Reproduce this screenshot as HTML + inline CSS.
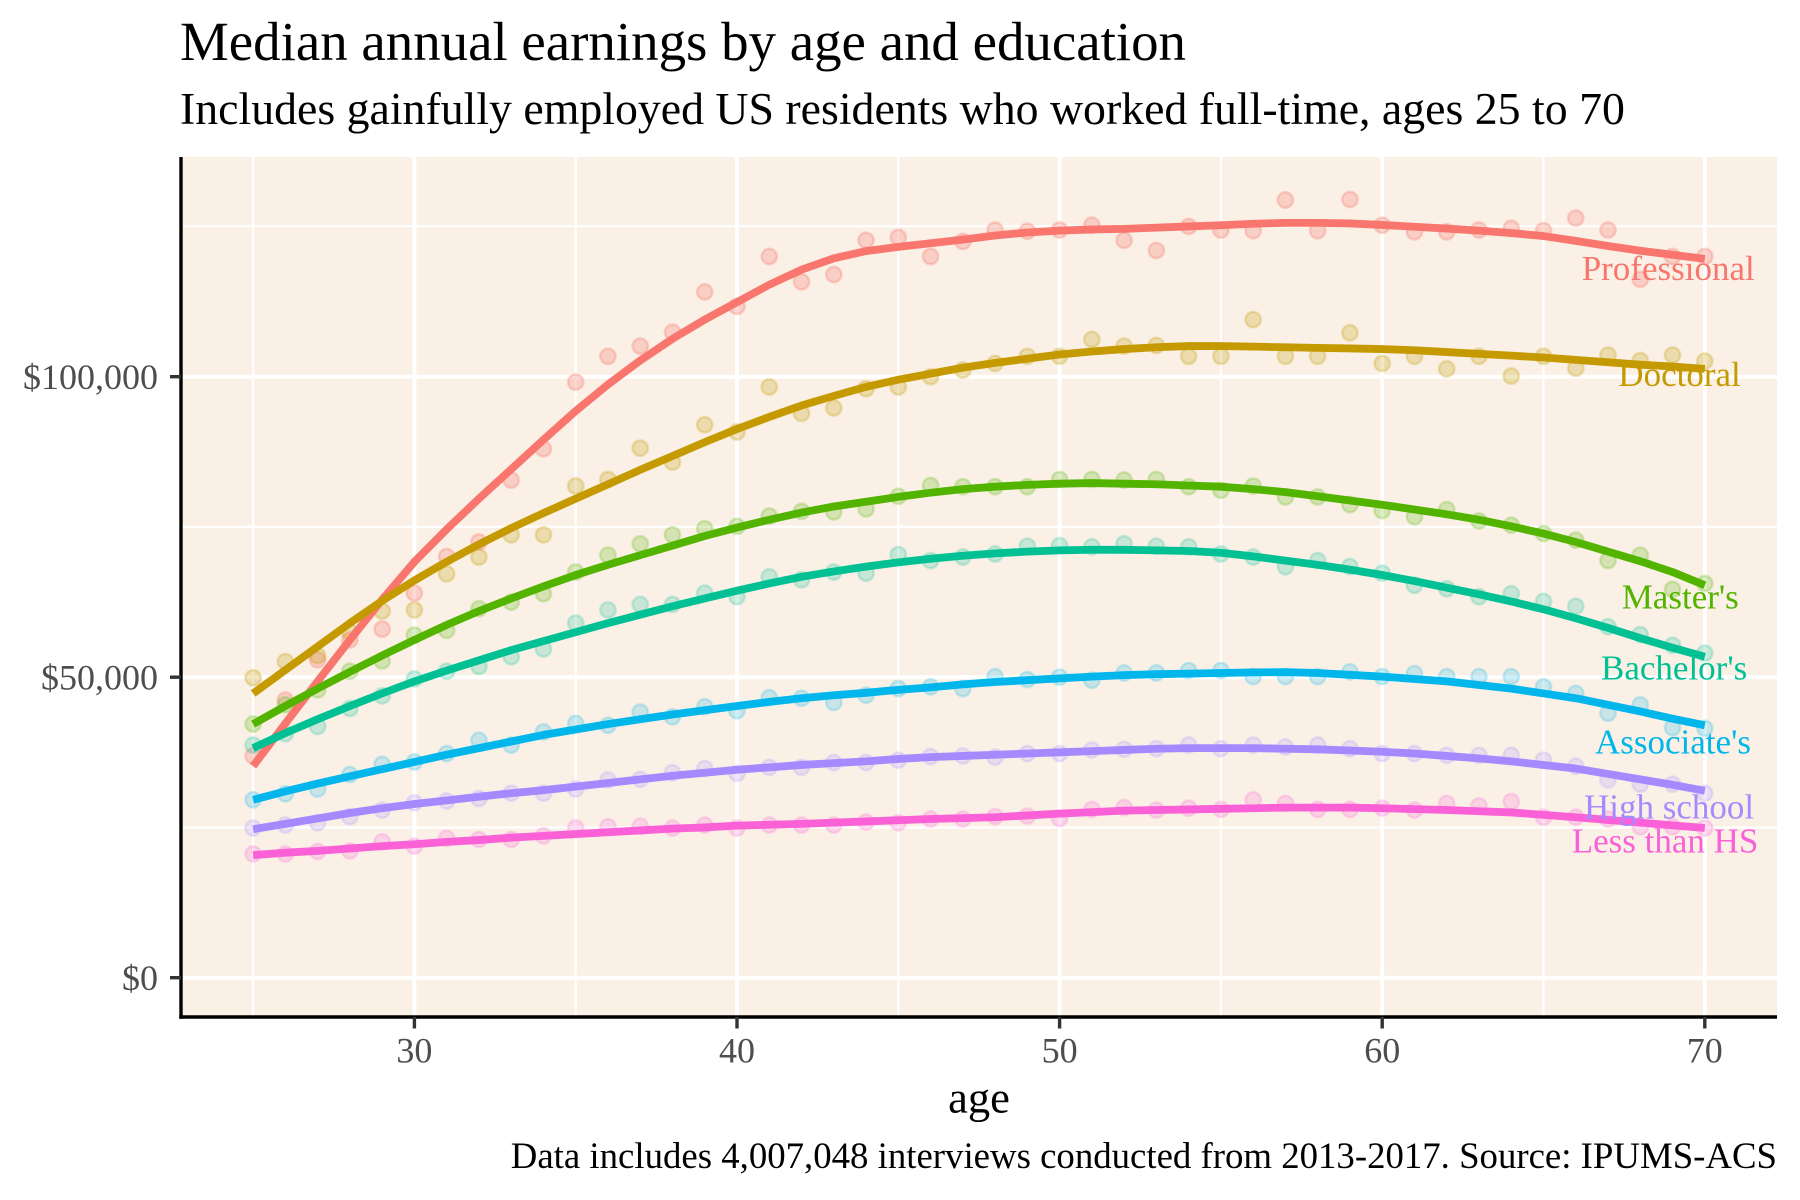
<!DOCTYPE html>
<html>
<head>
<meta charset="utf-8">
<style>
html,body{margin:0;padding:0;background:#fff;}
svg{display:block;}
text{font-family:"Liberation Serif","Times New Roman",serif;}
</style>
</head>
<body>
<svg xmlns="http://www.w3.org/2000/svg" width="1800" height="1200" viewBox="0 0 1800 1200">
<defs>
<circle id="d" r="7.7" stroke-width="2.5" transform="scale(0.0309981 -0.1663894)"/>
</defs>
<rect width="1800" height="1200" fill="#ffffff"/>
<rect x="181" y="157" width="1596" height="860" fill="#FAF0E6"/>
<!-- minor grid -->
<g stroke="#ffffff" stroke-width="2.2">
<line x1="181" x2="1777" y1="827.5" y2="827.5"/>
<line x1="181" x2="1777" y1="526.9" y2="526.9"/>
<line x1="181" x2="1777" y1="226.2" y2="226.2"/>
<line y1="157" y2="1017" x1="253.1" x2="253.1"/>
<line y1="157" y2="1017" x1="575.7" x2="575.7"/>
<line y1="157" y2="1017" x1="898.3" x2="898.3"/>
<line y1="157" y2="1017" x1="1220.9" x2="1220.9"/>
<line y1="157" y2="1017" x1="1543.5" x2="1543.5"/>
</g>
<!-- major grid -->
<g stroke="#ffffff" stroke-width="4">
<line x1="181" x2="1777" y1="977.7" y2="977.7"/>
<line x1="181" x2="1777" y1="677.2" y2="677.2"/>
<line x1="181" x2="1777" y1="376.7" y2="376.7"/>
<line y1="157" y2="1017" x1="414.4" x2="414.4"/>
<line y1="157" y2="1017" x1="737.0" x2="737.0"/>
<line y1="157" y2="1017" x1="1059.6" x2="1059.6"/>
<line y1="157" y2="1017" x1="1382.2" x2="1382.2"/>
<line y1="157" y2="1017" x1="1704.8" x2="1704.8"/>
</g>

<g transform="translate(253.1 977.7) scale(32.26 -6.01) translate(-25 0)">
<!-- points -->
<g fill="#F8766D" stroke="#F8766D" fill-opacity="0.28" stroke-opacity="0.28">
<use href="#d" x="25" y="36.9"/><use href="#d" x="26" y="46.2"/><use href="#d" x="27" y="52.9"/><use href="#d" x="28" y="56.2"/><use href="#d" x="29" y="58.0"/><use href="#d" x="30" y="64.0"/><use href="#d" x="31" y="70.1"/><use href="#d" x="32" y="72.5"/><use href="#d" x="33" y="82.8"/><use href="#d" x="34" y="88.0"/><use href="#d" x="35" y="99.1"/><use href="#d" x="36" y="103.4"/><use href="#d" x="37" y="105.1"/><use href="#d" x="38" y="107.4"/><use href="#d" x="39" y="114.1"/><use href="#d" x="40" y="111.7"/><use href="#d" x="41" y="120.0"/><use href="#d" x="42" y="115.8"/><use href="#d" x="43" y="117.0"/><use href="#d" x="44" y="122.7"/><use href="#d" x="45" y="123.2"/><use href="#d" x="46" y="120.0"/><use href="#d" x="47" y="122.5"/><use href="#d" x="48" y="124.4"/><use href="#d" x="49" y="124.2"/><use href="#d" x="50" y="124.4"/><use href="#d" x="51" y="125.2"/><use href="#d" x="52" y="122.7"/><use href="#d" x="53" y="121.0"/><use href="#d" x="54" y="125.0"/><use href="#d" x="55" y="124.4"/><use href="#d" x="56" y="124.3"/><use href="#d" x="57" y="129.4"/><use href="#d" x="58" y="124.3"/><use href="#d" x="59" y="129.5"/><use href="#d" x="60" y="125.2"/><use href="#d" x="61" y="124.1"/><use href="#d" x="62" y="124.1"/><use href="#d" x="63" y="124.4"/><use href="#d" x="64" y="124.7"/><use href="#d" x="65" y="124.3"/><use href="#d" x="66" y="126.4"/><use href="#d" x="67" y="124.4"/><use href="#d" x="68" y="116.2"/><use href="#d" x="69" y="120.0"/><use href="#d" x="70" y="120.0"/>
</g>
<g fill="#C49A00" stroke="#C49A00" fill-opacity="0.25" stroke-opacity="0.25">
<use href="#d" x="25" y="49.9"/><use href="#d" x="26" y="52.6"/><use href="#d" x="27" y="53.6"/><use href="#d" x="28" y="57.5"/><use href="#d" x="29" y="61.0"/><use href="#d" x="30" y="61.2"/><use href="#d" x="31" y="67.2"/><use href="#d" x="32" y="70.0"/><use href="#d" x="33" y="73.7"/><use href="#d" x="34" y="73.7"/><use href="#d" x="35" y="81.8"/><use href="#d" x="36" y="82.9"/><use href="#d" x="37" y="88.1"/><use href="#d" x="38" y="85.8"/><use href="#d" x="39" y="92.0"/><use href="#d" x="40" y="90.8"/><use href="#d" x="41" y="98.3"/><use href="#d" x="42" y="93.9"/><use href="#d" x="43" y="94.8"/><use href="#d" x="44" y="98.0"/><use href="#d" x="45" y="98.3"/><use href="#d" x="46" y="100.0"/><use href="#d" x="47" y="101.1"/><use href="#d" x="48" y="102.2"/><use href="#d" x="49" y="103.4"/><use href="#d" x="50" y="103.4"/><use href="#d" x="51" y="106.2"/><use href="#d" x="52" y="105.1"/><use href="#d" x="53" y="105.2"/><use href="#d" x="54" y="103.4"/><use href="#d" x="55" y="103.4"/><use href="#d" x="56" y="109.5"/><use href="#d" x="57" y="103.4"/><use href="#d" x="58" y="103.4"/><use href="#d" x="59" y="107.3"/><use href="#d" x="60" y="102.2"/><use href="#d" x="61" y="103.4"/><use href="#d" x="62" y="101.3"/><use href="#d" x="63" y="103.4"/><use href="#d" x="64" y="100.1"/><use href="#d" x="65" y="103.4"/><use href="#d" x="66" y="101.4"/><use href="#d" x="67" y="103.6"/><use href="#d" x="68" y="102.7"/><use href="#d" x="69" y="103.6"/><use href="#d" x="70" y="102.6"/>
</g>
<g fill="#53B400" stroke="#53B400" fill-opacity="0.22" stroke-opacity="0.22">
<use href="#d" x="25" y="42.2"/><use href="#d" x="26" y="45.4"/><use href="#d" x="27" y="47.9"/><use href="#d" x="28" y="51.0"/><use href="#d" x="29" y="52.7"/><use href="#d" x="30" y="57.0"/><use href="#d" x="31" y="57.8"/><use href="#d" x="32" y="61.4"/><use href="#d" x="33" y="62.5"/><use href="#d" x="34" y="63.9"/><use href="#d" x="35" y="67.5"/><use href="#d" x="36" y="70.3"/><use href="#d" x="37" y="72.2"/><use href="#d" x="38" y="73.7"/><use href="#d" x="39" y="74.7"/><use href="#d" x="40" y="75.1"/><use href="#d" x="41" y="76.8"/><use href="#d" x="42" y="77.6"/><use href="#d" x="43" y="77.5"/><use href="#d" x="44" y="78.0"/><use href="#d" x="45" y="80.1"/><use href="#d" x="46" y="81.9"/><use href="#d" x="47" y="81.7"/><use href="#d" x="48" y="81.7"/><use href="#d" x="49" y="81.7"/><use href="#d" x="50" y="82.9"/><use href="#d" x="51" y="82.9"/><use href="#d" x="52" y="82.8"/><use href="#d" x="53" y="82.9"/><use href="#d" x="54" y="81.7"/><use href="#d" x="55" y="81.1"/><use href="#d" x="56" y="81.8"/><use href="#d" x="57" y="80.0"/><use href="#d" x="58" y="80.0"/><use href="#d" x="59" y="78.7"/><use href="#d" x="60" y="77.7"/><use href="#d" x="61" y="76.7"/><use href="#d" x="62" y="77.9"/><use href="#d" x="63" y="76.0"/><use href="#d" x="64" y="75.3"/><use href="#d" x="65" y="73.9"/><use href="#d" x="66" y="72.8"/><use href="#d" x="67" y="69.4"/><use href="#d" x="68" y="70.3"/><use href="#d" x="69" y="64.6"/><use href="#d" x="70" y="65.6"/>
</g>
<g fill="#00C094" stroke="#00C094" fill-opacity="0.2" stroke-opacity="0.2">
<use href="#d" x="25" y="38.7"/><use href="#d" x="26" y="40.6"/><use href="#d" x="27" y="41.8"/><use href="#d" x="28" y="44.8"/><use href="#d" x="29" y="46.9"/><use href="#d" x="30" y="49.7"/><use href="#d" x="31" y="51.0"/><use href="#d" x="32" y="51.8"/><use href="#d" x="33" y="53.4"/><use href="#d" x="34" y="54.7"/><use href="#d" x="35" y="59.0"/><use href="#d" x="36" y="61.2"/><use href="#d" x="37" y="62.1"/><use href="#d" x="38" y="62.1"/><use href="#d" x="39" y="64.0"/><use href="#d" x="40" y="63.4"/><use href="#d" x="41" y="66.7"/><use href="#d" x="42" y="66.2"/><use href="#d" x="43" y="67.5"/><use href="#d" x="44" y="67.3"/><use href="#d" x="45" y="70.4"/><use href="#d" x="46" y="69.4"/><use href="#d" x="47" y="70.0"/><use href="#d" x="48" y="70.5"/><use href="#d" x="49" y="71.8"/><use href="#d" x="50" y="71.9"/><use href="#d" x="51" y="71.7"/><use href="#d" x="52" y="72.2"/><use href="#d" x="53" y="71.8"/><use href="#d" x="54" y="71.7"/><use href="#d" x="55" y="70.5"/><use href="#d" x="56" y="70.0"/><use href="#d" x="57" y="68.4"/><use href="#d" x="58" y="69.4"/><use href="#d" x="59" y="68.4"/><use href="#d" x="60" y="67.3"/><use href="#d" x="61" y="65.3"/><use href="#d" x="62" y="64.7"/><use href="#d" x="63" y="63.4"/><use href="#d" x="64" y="63.9"/><use href="#d" x="65" y="62.6"/><use href="#d" x="66" y="61.8"/><use href="#d" x="67" y="58.4"/><use href="#d" x="68" y="57.1"/><use href="#d" x="69" y="55.3"/><use href="#d" x="70" y="54.0"/>
</g>
<g fill="#00B6EB" stroke="#00B6EB" fill-opacity="0.2" stroke-opacity="0.2">
<use href="#d" x="25" y="29.6"/><use href="#d" x="26" y="30.6"/><use href="#d" x="27" y="31.4"/><use href="#d" x="28" y="33.8"/><use href="#d" x="29" y="35.5"/><use href="#d" x="30" y="35.9"/><use href="#d" x="31" y="37.3"/><use href="#d" x="32" y="39.5"/><use href="#d" x="33" y="38.7"/><use href="#d" x="34" y="40.9"/><use href="#d" x="35" y="42.3"/><use href="#d" x="36" y="42.0"/><use href="#d" x="37" y="44.2"/><use href="#d" x="38" y="43.4"/><use href="#d" x="39" y="45.1"/><use href="#d" x="40" y="44.4"/><use href="#d" x="41" y="46.6"/><use href="#d" x="42" y="46.5"/><use href="#d" x="43" y="45.8"/><use href="#d" x="44" y="47.0"/><use href="#d" x="45" y="48.1"/><use href="#d" x="46" y="48.4"/><use href="#d" x="47" y="48.1"/><use href="#d" x="48" y="50.1"/><use href="#d" x="49" y="49.6"/><use href="#d" x="50" y="50.0"/><use href="#d" x="51" y="49.5"/><use href="#d" x="52" y="50.7"/><use href="#d" x="53" y="50.7"/><use href="#d" x="54" y="51.1"/><use href="#d" x="55" y="51.1"/><use href="#d" x="56" y="50.1"/><use href="#d" x="57" y="50.1"/><use href="#d" x="58" y="50.1"/><use href="#d" x="59" y="50.9"/><use href="#d" x="60" y="50.1"/><use href="#d" x="61" y="50.6"/><use href="#d" x="62" y="50.1"/><use href="#d" x="63" y="50.1"/><use href="#d" x="64" y="50.1"/><use href="#d" x="65" y="48.4"/><use href="#d" x="66" y="47.3"/><use href="#d" x="67" y="44.0"/><use href="#d" x="68" y="45.4"/><use href="#d" x="69" y="41.6"/><use href="#d" x="70" y="41.5"/>
</g>
<g fill="#A58AFF" stroke="#A58AFF" fill-opacity="0.2" stroke-opacity="0.2">
<use href="#d" x="25" y="24.9"/><use href="#d" x="26" y="25.4"/><use href="#d" x="27" y="25.8"/><use href="#d" x="28" y="26.8"/><use href="#d" x="29" y="27.9"/><use href="#d" x="30" y="29.1"/><use href="#d" x="31" y="29.4"/><use href="#d" x="32" y="29.8"/><use href="#d" x="33" y="30.7"/><use href="#d" x="34" y="30.7"/><use href="#d" x="35" y="31.4"/><use href="#d" x="36" y="32.9"/><use href="#d" x="37" y="33.0"/><use href="#d" x="38" y="34.1"/><use href="#d" x="39" y="34.8"/><use href="#d" x="40" y="34.0"/><use href="#d" x="41" y="35.0"/><use href="#d" x="42" y="35.0"/><use href="#d" x="43" y="35.8"/><use href="#d" x="44" y="35.8"/><use href="#d" x="45" y="36.2"/><use href="#d" x="46" y="36.8"/><use href="#d" x="47" y="36.9"/><use href="#d" x="48" y="36.7"/><use href="#d" x="49" y="37.3"/><use href="#d" x="50" y="37.3"/><use href="#d" x="51" y="37.9"/><use href="#d" x="52" y="38.0"/><use href="#d" x="53" y="38.1"/><use href="#d" x="54" y="38.7"/><use href="#d" x="55" y="38.1"/><use href="#d" x="56" y="38.7"/><use href="#d" x="57" y="38.4"/><use href="#d" x="58" y="38.7"/><use href="#d" x="59" y="38.1"/><use href="#d" x="60" y="37.3"/><use href="#d" x="61" y="37.3"/><use href="#d" x="62" y="37.0"/><use href="#d" x="63" y="37.0"/><use href="#d" x="64" y="37.0"/><use href="#d" x="65" y="36.2"/><use href="#d" x="66" y="35.2"/><use href="#d" x="67" y="32.9"/><use href="#d" x="68" y="32.2"/><use href="#d" x="69" y="32.2"/><use href="#d" x="70" y="30.7"/>
</g>
<g fill="#FB61D7" stroke="#FB61D7" fill-opacity="0.2" stroke-opacity="0.2">
<use href="#d" x="25" y="20.6"/><use href="#d" x="26" y="20.6"/><use href="#d" x="27" y="21.0"/><use href="#d" x="28" y="21.1"/><use href="#d" x="29" y="22.6"/><use href="#d" x="30" y="21.9"/><use href="#d" x="31" y="23.2"/><use href="#d" x="32" y="23.0"/><use href="#d" x="33" y="23.0"/><use href="#d" x="34" y="23.6"/><use href="#d" x="35" y="24.9"/><use href="#d" x="36" y="25.1"/><use href="#d" x="37" y="25.2"/><use href="#d" x="38" y="24.9"/><use href="#d" x="39" y="25.4"/><use href="#d" x="40" y="24.9"/><use href="#d" x="41" y="25.4"/><use href="#d" x="42" y="25.4"/><use href="#d" x="43" y="25.4"/><use href="#d" x="44" y="25.9"/><use href="#d" x="45" y="25.8"/><use href="#d" x="46" y="26.4"/><use href="#d" x="47" y="26.4"/><use href="#d" x="48" y="26.8"/><use href="#d" x="49" y="26.9"/><use href="#d" x="50" y="26.5"/><use href="#d" x="51" y="28.0"/><use href="#d" x="52" y="28.3"/><use href="#d" x="53" y="27.9"/><use href="#d" x="54" y="28.2"/><use href="#d" x="55" y="28.0"/><use href="#d" x="56" y="29.6"/><use href="#d" x="57" y="29.0"/><use href="#d" x="58" y="28.0"/><use href="#d" x="59" y="28.0"/><use href="#d" x="60" y="28.2"/><use href="#d" x="61" y="27.9"/><use href="#d" x="62" y="29.0"/><use href="#d" x="63" y="28.6"/><use href="#d" x="64" y="29.3"/><use href="#d" x="65" y="26.7"/><use href="#d" x="66" y="26.7"/><use href="#d" x="67" y="26.4"/><use href="#d" x="68" y="25.1"/><use href="#d" x="69" y="25.1"/><use href="#d" x="70" y="24.9"/>
</g>

<!-- smooth curves -->
<g fill="none" stroke-width="7.8" stroke-linejoin="round" stroke-linecap="butt">
<polyline vector-effect="non-scaling-stroke" stroke="#F8766D" points="25,35.2 26,42.3 27,49.3 28,56.2 29,62.9 30,69.2 31,74.6 32,79.7 33,84.6 34,89.5 35,94.3 36,98.7 37,102.7 38,106.3 39,109.5 40,112.4 41,115.3 42,117.8 43,119.7 44,120.9 45,121.6 46,122.2 47,122.8 48,123.5 49,124.0 50,124.3 51,124.5 52,124.6 53,124.8 54,125.0 55,125.2 56,125.45 57,125.6 58,125.6 59,125.5 60,125.25 61,124.95 62,124.65 63,124.3 64,123.9 65,123.4 66,122.6 67,121.75 68,120.95 69,120.3 70,119.6"/>
<polyline vector-effect="non-scaling-stroke" stroke="#C49A00" points="25,47.3 26,51.2 27,55.1 28,59.0 29,62.7 30,66.1 31,69.2 32,72.1 33,74.8 34,77.3 35,79.7 36,82.1 37,84.5 38,86.8 39,89.1 40,91.3 41,93.3 42,95.2 43,96.8 44,98.3 45,99.5 46,100.5 47,101.5 48,102.3 49,103.0 50,103.7 51,104.2 52,104.6 53,104.9 54,105.1 55,105.1 56,105.0 57,104.9 58,104.8 59,104.7 60,104.6 61,104.4 62,104.1 63,103.8 64,103.5 65,103.2 66,102.8 67,102.4 68,102.0 69,101.7 70,101.3"/>
<polyline vector-effect="non-scaling-stroke" stroke="#53B400" points="25,42.2 26,45.2 27,48.1 28,50.9 29,53.6 30,56.2 31,58.7 32,61.0 33,63.1 34,65.1 35,67.0 36,68.7 37,70.3 38,71.9 39,73.5 40,74.9 41,76.2 42,77.4 43,78.4 44,79.2 45,80.0 46,80.7 47,81.3 48,81.7 49,82.0 50,82.2 51,82.3 52,82.2 53,82.1 54,81.9 55,81.7 56,81.3 57,80.8 58,80.1 59,79.4 60,78.7 61,77.9 62,77.1 63,76.2 64,75.1 65,73.9 66,72.5 67,70.9 68,69.3 69,67.5 70,65.3"/>
<polyline vector-effect="non-scaling-stroke" stroke="#00C094" points="25,38.2 26,40.7 27,43.0 28,45.2 29,47.3 30,49.3 31,51.1 32,52.8 33,54.5 34,56.0 35,57.5 36,59.0 37,60.4 38,61.8 39,63.1 40,64.4 41,65.6 42,66.7 43,67.6 44,68.4 45,69.1 46,69.7 47,70.2 48,70.6 49,70.9 50,71.1 51,71.2 52,71.2 53,71.1 54,71.0 55,70.7 56,70.1 57,69.4 58,68.7 59,67.9 60,67.0 61,66.0 62,64.9 63,63.8 64,62.6 65,61.3 66,59.8 67,58.2 68,56.5 69,54.9 70,53.4"/>
<polyline vector-effect="non-scaling-stroke" stroke="#00B6EB" points="25,29.6 26,31.0 27,32.3 28,33.5 29,34.7 30,35.9 31,37.1 32,38.2 33,39.3 34,40.4 35,41.3 36,42.2 37,43.0 38,43.8 39,44.5 40,45.2 41,45.9 42,46.5 43,47.0 44,47.4 45,47.9 46,48.3 47,48.8 48,49.2 49,49.5 50,49.8 51,50.1 52,50.35 53,50.5 54,50.6 55,50.7 56,50.8 57,50.85 58,50.7 59,50.4 60,50.1 61,49.7 62,49.3 63,48.7 64,48.1 65,47.3 66,46.5 67,45.4 68,44.3 69,43.1 70,42.0"/>
<polyline vector-effect="non-scaling-stroke" stroke="#A58AFF" points="25,24.7 26,25.6 27,26.5 28,27.4 29,28.2 30,28.9 31,29.5 32,30.1 33,30.7 34,31.2 35,31.8 36,32.4 37,33.0 38,33.6 39,34.1 40,34.6 41,35.0 42,35.4 43,35.7 44,36.0 45,36.4 46,36.7 47,36.9 48,37.1 49,37.3 50,37.5 51,37.7 52,37.9 53,38.1 54,38.2 55,38.2 56,38.2 57,38.1 58,38.0 59,37.8 60,37.6 61,37.3 62,36.9 63,36.5 64,36.0 65,35.4 66,34.8 67,33.9 68,33.0 69,32.1 70,31.1"/>
<polyline vector-effect="non-scaling-stroke" stroke="#FB61D7" points="25,20.4 26,20.8 27,21.1 28,21.5 29,21.9 30,22.2 31,22.6 32,22.9 33,23.3 34,23.6 35,23.9 36,24.2 37,24.5 38,24.8 39,25.0 40,25.3 41,25.45 42,25.6 43,25.8 44,26.0 45,26.2 46,26.4 47,26.55 48,26.7 49,27.0 50,27.3 51,27.55 52,27.8 53,27.9 54,28.0 55,28.1 56,28.2 57,28.3 58,28.3 59,28.3 60,28.2 61,28.05 62,27.9 63,27.7 64,27.5 65,27.1 66,26.7 67,26.25 68,25.8 69,25.35 70,24.9"/>
</g>
</g>

<!-- direct labels -->
<g font-size="35">
<text x="1581.7" y="280" fill="#F8766D">Professional</text>
<text x="1618.3" y="386" fill="#C49A00">Doctoral</text>
<text x="1621.7" y="608.3" fill="#53B400">Master's</text>
<text x="1601" y="679.3" fill="#00C094">Bachelor's</text>
<text x="1595" y="753.3" fill="#00B6EB">Associate's</text>
<text x="1584" y="818.3" fill="#A58AFF">High school</text>
<text x="1571.7" y="852.7" fill="#FB61D7">Less than HS</text>
</g>

<!-- axes -->
<line x1="181" y1="157" x2="181" y2="1018.7" stroke="#000" stroke-width="3.4"/>
<line x1="179.3" y1="1017" x2="1777" y2="1017" stroke="#000" stroke-width="3.4"/>
<g stroke="#333333" stroke-width="3.4">
<line x1="170" x2="181" y1="977.7" y2="977.7"/>
<line x1="170" x2="181" y1="677.2" y2="677.2"/>
<line x1="170" x2="181" y1="376.7" y2="376.7"/>
<line y1="1017" y2="1028.5" x1="414.4" x2="414.4"/>
<line y1="1017" y2="1028.5" x1="737.0" x2="737.0"/>
<line y1="1017" y2="1028.5" x1="1059.6" x2="1059.6"/>
<line y1="1017" y2="1028.5" x1="1382.2" x2="1382.2"/>
<line y1="1017" y2="1028.5" x1="1704.8" x2="1704.8"/>
</g>
<g font-size="36" fill="#4D4D4D" text-anchor="end">
<text x="158" y="989.9">$0</text>
<text x="158" y="689.4">$50,000</text>
<text x="158" y="388.9">$100,000</text>
</g>
<g font-size="36" fill="#4D4D4D" text-anchor="middle">
<text x="414.4" y="1062.5">30</text>
<text x="737.0" y="1062.5">40</text>
<text x="1059.6" y="1062.5">50</text>
<text x="1382.2" y="1062.5">60</text>
<text x="1704.8" y="1062.5">70</text>
</g>
<text x="979" y="1112.7" font-size="44.5" text-anchor="middle" fill="#000">age</text>

<!-- titles -->
<text x="180" y="60" font-size="54.9" fill="#000">Median annual earnings by age and education</text>
<text x="180" y="124" font-size="45.8" fill="#000">Includes gainfully employed US residents who worked full-time, ages 25 to 70</text>
<text x="1777" y="1168" font-size="36.8" text-anchor="end" fill="#000">Data includes 4,007,048 interviews conducted from 2013-2017. Source: IPUMS-ACS</text>
</svg>
</body>
</html>
